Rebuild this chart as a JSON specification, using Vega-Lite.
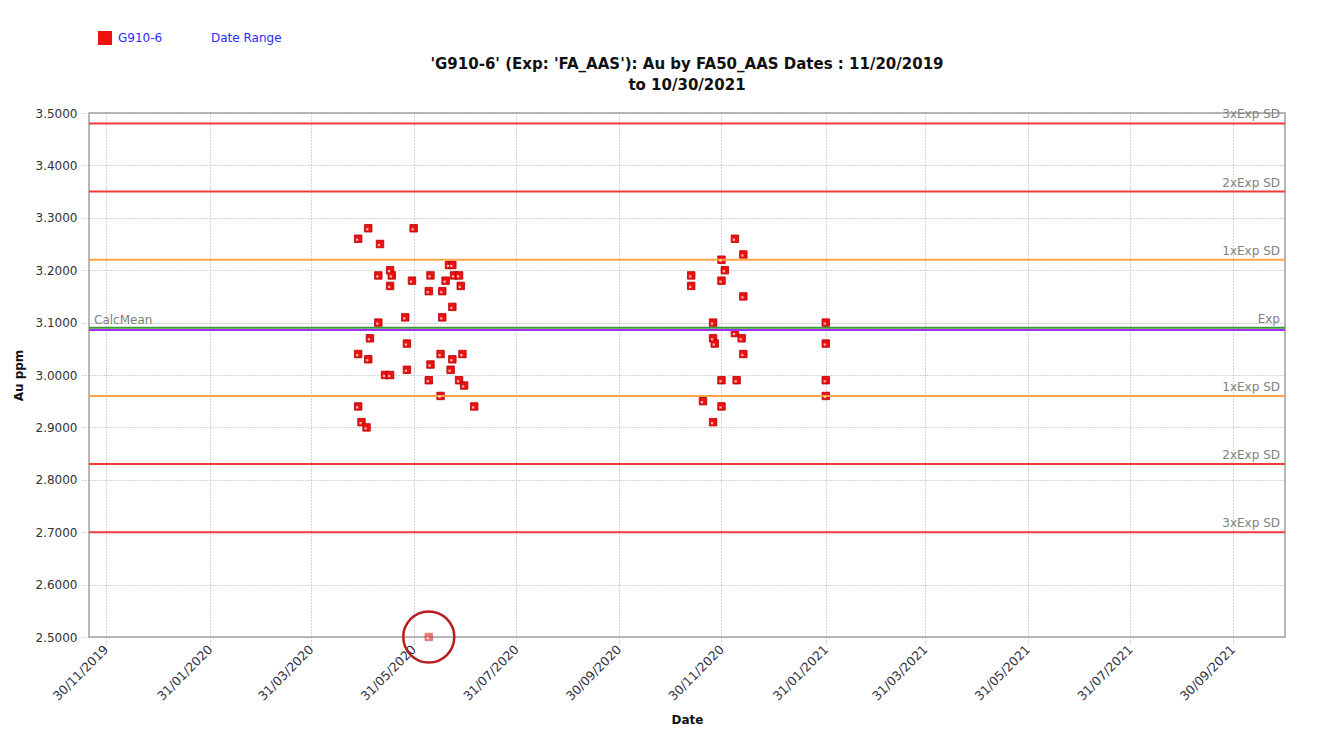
{
  "$schema": "https://vega.github.io/schema/vega-lite/v6.json",
  "width": 1196,
  "height": 524,
  "autosize": {"type": "none"},
  "padding": {"left": 89, "top": 113, "right": 41, "bottom": 100},
  "background": "white",
  "title": {
    "text": ["'G910-6' (Exp: 'FA_AAS'): Au by FA50_AAS Dates : 11/20/2019", "to 10/30/2021"],
    "anchor": "middle",
    "frame": "group",
    "font": "DejaVu Sans",
    "fontSize": 15,
    "fontWeight": "bold",
    "color": "#111111",
    "offset": 20,
    "dy": 82,
    "lineHeight": 21
  },
  "config": {
    "font": "DejaVu Sans",
    "view": {"stroke": "#a0a0a0", "strokeWidth": 1.5}
  },
  "datasets": {
    "samples": [
      {"date": "2020-05-04", "au": 3.28, "series": "G910-6"},
      {"date": "2020-04-28", "au": 3.26, "series": "G910-6"},
      {"date": "2020-05-11", "au": 3.25, "series": "G910-6"},
      {"date": "2020-05-31", "au": 3.28, "series": "G910-6"},
      {"date": "2020-06-21", "au": 3.21, "series": "G910-6"},
      {"date": "2020-06-23", "au": 3.21, "series": "G910-6"},
      {"date": "2020-05-17", "au": 3.20, "series": "G910-6"},
      {"date": "2020-05-10", "au": 3.19, "series": "G910-6"},
      {"date": "2020-05-18", "au": 3.19, "series": "G910-6"},
      {"date": "2020-06-10", "au": 3.19, "series": "G910-6"},
      {"date": "2020-06-24", "au": 3.19, "series": "G910-6"},
      {"date": "2020-06-27", "au": 3.19, "series": "G910-6"},
      {"date": "2020-05-30", "au": 3.18, "series": "G910-6"},
      {"date": "2020-06-19", "au": 3.18, "series": "G910-6"},
      {"date": "2020-05-17", "au": 3.17, "series": "G910-6"},
      {"date": "2020-06-28", "au": 3.17, "series": "G910-6"},
      {"date": "2020-06-09", "au": 3.16, "series": "G910-6"},
      {"date": "2020-06-17", "au": 3.16, "series": "G910-6"},
      {"date": "2020-06-23", "au": 3.13, "series": "G910-6"},
      {"date": "2020-05-26", "au": 3.11, "series": "G910-6"},
      {"date": "2020-06-17", "au": 3.11, "series": "G910-6"},
      {"date": "2020-05-10", "au": 3.10, "series": "G910-6"},
      {"date": "2020-05-05", "au": 3.07, "series": "G910-6"},
      {"date": "2020-05-27", "au": 3.06, "series": "G910-6"},
      {"date": "2020-04-28", "au": 3.04, "series": "G910-6"},
      {"date": "2020-06-16", "au": 3.04, "series": "G910-6"},
      {"date": "2020-06-29", "au": 3.04, "series": "G910-6"},
      {"date": "2020-05-04", "au": 3.03, "series": "G910-6"},
      {"date": "2020-06-23", "au": 3.03, "series": "G910-6"},
      {"date": "2020-06-10", "au": 3.02, "series": "G910-6"},
      {"date": "2020-05-27", "au": 3.01, "series": "G910-6"},
      {"date": "2020-06-22", "au": 3.01, "series": "G910-6"},
      {"date": "2020-05-14", "au": 3.00, "series": "G910-6"},
      {"date": "2020-05-17", "au": 3.00, "series": "G910-6"},
      {"date": "2020-06-09", "au": 2.99, "series": "G910-6"},
      {"date": "2020-06-27", "au": 2.99, "series": "G910-6"},
      {"date": "2020-06-30", "au": 2.98, "series": "G910-6"},
      {"date": "2020-06-16", "au": 2.96, "series": "G910-6"},
      {"date": "2020-04-28", "au": 2.94, "series": "G910-6"},
      {"date": "2020-07-06", "au": 2.94, "series": "G910-6"},
      {"date": "2020-04-30", "au": 2.91, "series": "G910-6"},
      {"date": "2020-05-03", "au": 2.90, "series": "G910-6"},
      {"date": "2020-06-09", "au": 2.50, "series": "G910-6"},
      {"date": "2020-12-08", "au": 3.26, "series": "G910-6"},
      {"date": "2020-12-13", "au": 3.23, "series": "G910-6"},
      {"date": "2020-11-30", "au": 3.22, "series": "G910-6"},
      {"date": "2020-12-02", "au": 3.20, "series": "G910-6"},
      {"date": "2020-11-12", "au": 3.19, "series": "G910-6"},
      {"date": "2020-11-30", "au": 3.18, "series": "G910-6"},
      {"date": "2020-11-12", "au": 3.17, "series": "G910-6"},
      {"date": "2020-12-13", "au": 3.15, "series": "G910-6"},
      {"date": "2020-11-25", "au": 3.10, "series": "G910-6"},
      {"date": "2021-01-31", "au": 3.10, "series": "G910-6"},
      {"date": "2020-12-08", "au": 3.08, "series": "G910-6"},
      {"date": "2020-11-25", "au": 3.07, "series": "G910-6"},
      {"date": "2020-12-12", "au": 3.07, "series": "G910-6"},
      {"date": "2020-11-26", "au": 3.06, "series": "G910-6"},
      {"date": "2021-01-31", "au": 3.06, "series": "G910-6"},
      {"date": "2020-12-13", "au": 3.04, "series": "G910-6"},
      {"date": "2020-11-30", "au": 2.99, "series": "G910-6"},
      {"date": "2020-12-09", "au": 2.99, "series": "G910-6"},
      {"date": "2021-01-31", "au": 2.99, "series": "G910-6"},
      {"date": "2021-01-31", "au": 2.96, "series": "G910-6"},
      {"date": "2020-11-19", "au": 2.95, "series": "G910-6"},
      {"date": "2020-11-30", "au": 2.94, "series": "G910-6"},
      {"date": "2020-11-25", "au": 2.91, "series": "G910-6"}
    ],
    "lines": [
      {"value": 3.48, "label": "3xExp SD", "color": "#ee3a3a"},
      {"value": 3.35, "label": "2xExp SD", "color": "#ee3a3a"},
      {"value": 3.22, "label": "1xExp SD", "color": "#ffa448"},
      {"value": 3.09, "label": "Exp", "color": "#3a9a3a"},
      {"value": 3.086, "label": "CalcMean", "color": "#a030f0"},
      {"value": 2.96, "label": "1xExp SD", "color": "#ffa448"},
      {"value": 2.83, "label": "2xExp SD", "color": "#ee3a3a"},
      {"value": 2.70, "label": "3xExp SD", "color": "#ee3a3a"}
    ]
  },
  "layer": [
    {
      "data": {"name": "samples"},
      "mark": {"type": "point", "shape": "square", "filled": true, "size": 56, "stroke": "#b00000", "strokeWidth": 0.8},
      "encoding": {
        "x": {
          "field": "date",
          "type": "temporal",
          "scale": {
            "type": "utc",
            "domain": [
              {"year": 2019, "month": 11, "date": 20, "utc": true},
              {"year": 2021, "month": 10, "date": 31, "utc": true}
            ]
          },
          "axis": {
            "title": "Date",
            "titleFontWeight": "bold",
            "titleFontSize": 12,
            "titleColor": "#111111",
            "titlePadding": 12,
            "values": [
              {"year": 2019, "month": 11, "date": 30, "utc": true},
              {"year": 2020, "month": 1, "date": 31, "utc": true},
              {"year": 2020, "month": 3, "date": 31, "utc": true},
              {"year": 2020, "month": 5, "date": 31, "utc": true},
              {"year": 2020, "month": 7, "date": 31, "utc": true},
              {"year": 2020, "month": 9, "date": 30, "utc": true},
              {"year": 2020, "month": 11, "date": 30, "utc": true},
              {"year": 2021, "month": 1, "date": 31, "utc": true},
              {"year": 2021, "month": 3, "date": 31, "utc": true},
              {"year": 2021, "month": 5, "date": 31, "utc": true},
              {"year": 2021, "month": 7, "date": 31, "utc": true},
              {"year": 2021, "month": 9, "date": 30, "utc": true}
            ],
            "labelExpr": "utcFormat(datum.value, '%d/%m/%Y')",
            "labelAngle": -45,
            "labelAlign": "right",
            "labelBaseline": "middle",
            "labelFontSize": 12.5,
            "labelColor": "#333344",
            "labelPadding": 2,
            "grid": true,
            "gridDash": [1, 2],
            "gridColor": "#a8a8a8",
            "tickDash": [1, 2],
            "tickColor": "#a8a8a8",
            "tickSize": 8,
            "domain": false
          }
        },
        "y": {
          "field": "au",
          "type": "quantitative",
          "scale": {"domain": [2.5, 3.5], "nice": false, "zero": false},
          "axis": {
            "title": "Au ppm",
            "titleFontWeight": "bold",
            "titleFontSize": 12,
            "titleColor": "#111111",
            "titlePadding": 10,
            "values": [2.5, 2.6, 2.7, 2.8, 2.9, 3.0, 3.1, 3.2, 3.3, 3.4, 3.5],
            "format": ".4f",
            "labelFontSize": 12,
            "labelColor": "#333333",
            "labelPadding": 4,
            "grid": true,
            "gridDash": [1, 2],
            "gridColor": "#a8a8a8",
            "tickDash": [1, 2],
            "tickColor": "#a8a8a8",
            "tickSize": 8,
            "domain": false
          }
        },
        "color": {
          "field": "series",
          "type": "nominal",
          "scale": {"domain": ["G910-6", "Date Range"], "range": ["#ee1111", "rgba(255,255,255,0)"]},
          "legend": {
            "orient": "none",
            "legendX": 9,
            "legendY": -82,
            "direction": "horizontal",
            "title": null,
            "symbolType": "square",
            "symbolSize": 196,
            "symbolStrokeWidth": 0,
            "labelColor": "#2a2aff",
            "labelFontSize": 12,
            "labelOffset": 6,
            "columnPadding": 28
          }
        },
        "opacity": {"condition": {"test": "datum.au < 2.6", "value": 0.55}, "value": 1}
      }
    },
    {
      "data": {"name": "lines"},
      "mark": {"type": "rule", "strokeWidth": 2},
      "encoding": {
        "y": {"field": "value", "type": "quantitative"},
        "color": {"field": "color", "type": "nominal", "scale": null}
      }
    },
    {
      "data": {"name": "lines"},
      "transform": [{"filter": "datum.label !== 'CalcMean'"}],
      "mark": {"type": "text", "align": "right", "baseline": "bottom", "dx": -5, "dy": -2, "fontSize": 12, "color": "#808080"},
      "encoding": {
        "y": {"field": "value", "type": "quantitative"},
        "x": {"datum": {"year": 2021, "month": 10, "date": 31, "utc": true}, "type": "temporal"},
        "text": {"field": "label"}
      }
    },
    {
      "data": {"name": "lines"},
      "transform": [{"filter": "datum.label === 'CalcMean'"}],
      "mark": {"type": "text", "align": "left", "baseline": "bottom", "dx": 5, "dy": -3, "fontSize": 12, "color": "#808080"},
      "encoding": {
        "y": {"field": "value", "type": "quantitative"},
        "x": {"datum": {"year": 2019, "month": 11, "date": 20, "utc": true}, "type": "temporal"},
        "text": {"field": "label"}
      }
    },
    {
      "data": {"name": "samples"},
      "mark": {"type": "point", "shape": "square", "filled": true, "size": 5, "color": "white", "xOffset": -1, "yOffset": 1},
      "encoding": {
        "x": {"field": "date", "type": "temporal"},
        "y": {"field": "au", "type": "quantitative"}
      }
    },
    {
      "data": {"name": "samples"},
      "transform": [{"filter": "datum.au < 2.6"}],
      "mark": {"type": "point", "shape": "circle", "filled": false, "size": 2600, "stroke": "#b81c1c", "strokeWidth": 2.5, "opacity": 1},
      "encoding": {
        "x": {"field": "date", "type": "temporal"},
        "y": {"field": "au", "type": "quantitative"}
      }
    }
  ]
}
